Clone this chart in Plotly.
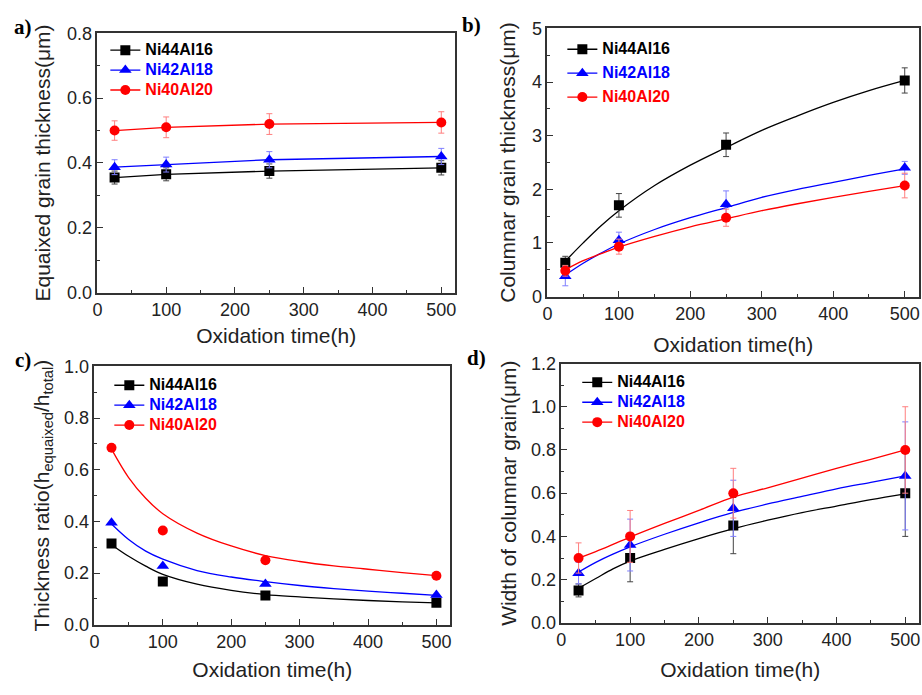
import plotly.graph_objects as go

# ---------------- data ----------------
t = [25, 100, 250, 500]
t_fit = [25, 50, 75, 100, 150, 200, 250, 300, 350, 400, 450, 500]
series = ["Ni44Al16", "Ni42Al18", "Ni40Al20"]

# a) equiaxed grain thickness
a_ni44 = [0.355, 0.365, 0.375, 0.385]
a_ni42 = [0.387, 0.395, 0.410, 0.420]
a_ni40 = [0.500, 0.510, 0.520, 0.525]
a_err44 = [0.020, 0.020, 0.022, 0.022]
a_err42 = [0.023, 0.023, 0.025, 0.025]
a_err40 = [0.030, 0.032, 0.032, 0.033]

# b) columnar grain thickness
b_ni44 = [0.63, 1.70, 2.83, 4.03]
b_ni42 = [0.38, 1.05, 1.72, 2.40]
b_ni40 = [0.48, 0.93, 1.47, 2.07]
b_err44 = [0.12, 0.22, 0.22, 0.235]
b_err42 = [0.18, 0.15, 0.25, 0.12]
b_err40 = [0.10, 0.14, 0.16, 0.23]
b_fit44 = [0.66, 1.00, 1.32, 1.60, 2.07, 2.45, 2.78, 3.10, 3.37, 3.62, 3.84, 4.03]
b_fit42 = [0.40, 0.62, 0.81, 0.98, 1.25, 1.47, 1.66, 1.85, 2.00, 2.13, 2.26, 2.38]
b_fit40 = [0.50, 0.67, 0.80, 0.92, 1.12, 1.30, 1.45, 1.60, 1.73, 1.85, 1.96, 2.07]

# c) thickness ratio
c_ni44 = [0.315, 0.168, 0.113, 0.085]
c_ni42 = [0.395, 0.228, 0.158, 0.115]
c_ni40 = [0.685, 0.365, 0.250, 0.190]
c_fit44 = [0.310, 0.265, 0.227, 0.195, 0.157, 0.133, 0.117, 0.108, 0.100, 0.094, 0.089, 0.085]
c_fit42 = [0.390, 0.330, 0.285, 0.254, 0.210, 0.185, 0.167, 0.152, 0.140, 0.130, 0.122, 0.114]
c_fit40 = [0.680, 0.570, 0.490, 0.430, 0.355, 0.305, 0.268, 0.245, 0.228, 0.215, 0.202, 0.190]

# d) width of columnar grain
d_ni44 = [0.15, 0.30, 0.45, 0.60]
d_ni42 = [0.23, 0.36, 0.53, 0.68]
d_ni40 = [0.30, 0.40, 0.60, 0.80]
d_err44 = [0.03, 0.11, 0.13, 0.20]
d_err42 = [0.05, 0.12, 0.13, 0.25]
d_err40 = [0.07, 0.12, 0.115, 0.20]
d_fit44 = [0.160, 0.205, 0.250, 0.286, 0.340, 0.390, 0.436, 0.475, 0.510, 0.540, 0.570, 0.597]
d_fit42 = [0.235, 0.280, 0.318, 0.352, 0.410, 0.463, 0.511, 0.550, 0.585, 0.620, 0.650, 0.680]
d_fit40 = [0.300, 0.330, 0.363, 0.397, 0.460, 0.520, 0.582, 0.625, 0.670, 0.715, 0.757, 0.800]

# ---------------- styles ----------------
colors = ["#000000", "#0000ff", "#ff0000"]
err_colors = ["#444444", "#7f7fff", "#ff7f7f"]
symbols = ["square", "triangle-up", "circle"]
msizes = [10, 11, 10]
FONT = "Arial, Liberation Sans, sans-serif"

fig = go.Figure()

panels = [
    dict(key="", pts=[a_ni44, a_ni42, a_ni40], err=[a_err44, a_err42, a_err40],
         fitx=None, fit=None, legend="legend"),
    dict(key="2", pts=[b_ni44, b_ni42, b_ni40], err=[b_err44, b_err42, b_err40],
         fitx=t_fit, fit=[b_fit44, b_fit42, b_fit40], legend="legend2"),
    dict(key="3", pts=[c_ni44, c_ni42, c_ni40], err=None,
         fitx=t_fit, fit=[c_fit44, c_fit42, c_fit40], legend="legend3"),
    dict(key="4", pts=[d_ni44, d_ni42, d_ni40], err=[d_err44, d_err42, d_err40],
         fitx=t_fit, fit=[d_fit44, d_fit42, d_fit40], legend="legend4"),
]

for p in panels:
    xa, ya = "x" + p["key"], "y" + p["key"]
    for i in range(3):
        fx = p["fitx"] if p["fitx"] is not None else t
        fy = p["fit"][i] if p["fit"] is not None else p["pts"][i]
        fig.add_trace(go.Scatter(
            x=fx, y=fy, xaxis=xa, yaxis=ya, mode="lines+markers",
            line=dict(color=colors[i], width=1.3, shape="spline" if p["fit"] is not None else "linear"),
            marker=dict(symbol=symbols[i], size=msizes[i], color=colors[i]),
            selectedpoints=[], unselected=dict(marker=dict(opacity=0)),
            name='<span style="font-size:16px;color:%s"><b>%s</b></span>' % (colors[i], series[i]),
            legend=p["legend"], legendgroup=p["legend"] + str(i), hoverinfo="skip",
        ))
        err = None
        if p["err"] is not None:
            err = dict(type="data", array=p["err"][i], visible=True,
                       color=err_colors[i], thickness=1, width=3)
        fig.add_trace(go.Scatter(
            x=t, y=p["pts"][i], xaxis=xa, yaxis=ya, mode="markers",
            marker=dict(symbol=symbols[i], size=msizes[i], color=colors[i]),
            error_y=err, showlegend=False,
        ))

W, H = 922, 695
def dx(a, b):
    return [a / W, b / W]
def dy(top, bot):
    return [1 - bot / H, 1 - top / H]

axis_common = dict(
    showline=True, linecolor="#333333", linewidth=1.5, mirror=True,
    ticks="inside", ticklen=6, tickwidth=1.2, tickcolor="#333333",
    showgrid=False, zeroline=False,
    tickfont=dict(family=FONT, size=18, color="#222222"),
    title_font=dict(family=FONT, size=21, color="#222222"),
)
minor = dict(ticks="inside", ticklen=3, tickwidth=1, tickcolor="#333333", showgrid=False)

xt = "Oxidation time(h)"
layout = dict(
    width=W, height=H, margin=dict(l=0, r=0, t=0, b=0),
    paper_bgcolor="white", plot_bgcolor="white", showlegend=True,
    xaxis=dict(domain=dx(93, 453), anchor="y", range=[0, 520], dtick=100,
               minor=dict(dtick=50, **minor), title=dict(text=xt, standoff=9), **axis_common),
    yaxis=dict(domain=dy(24, 291), anchor="x", range=[0, 0.8], dtick=0.2, tickformat=".1f",
               minor=dict(dtick=0.1, **minor), title=dict(text="Equaixed grain thickness(μm)", standoff=11),
               **axis_common),
    xaxis2=dict(domain=dx(546, 920), anchor="y2", range=[0, 520], dtick=100,
                minor=dict(dtick=50, **minor), title=dict(text=xt, standoff=14), **axis_common),
    yaxis2=dict(domain=dy(19, 295), anchor="x2", range=[0, 5], dtick=1,
                minor=dict(dtick=0.5, **minor), title=dict(text="Columnar grain thickness(μm)", standoff=11),
                **axis_common),
    xaxis3=dict(domain=dx(90, 448), anchor="y3", range=[0, 520], dtick=100,
                minor=dict(dtick=50, **minor), title=dict(text=xt, standoff=11), **axis_common),
    yaxis3=dict(domain=dy(367, 633), anchor="x3", range=[0, 1.0], dtick=0.2, tickformat=".1f",
                minor=dict(dtick=0.1, **minor),
                title=dict(text="Thickness ratio(h<sub>equaixed</sub>/h<sub>total</sub>)", standoff=9),
                **axis_common),
    xaxis4=dict(domain=dx(560, 920), anchor="y4", range=[0, 520], dtick=100,
                minor=dict(dtick=50, **minor), title=dict(text=xt, standoff=13), **axis_common),
    yaxis4=dict(domain=dy(364, 631), anchor="x4", range=[0, 1.2], dtick=0.2, tickformat=".1f",
                minor=dict(dtick=0.1, **minor), title=dict(text="Width of columnar grain(μm)", standoff=9),
                **axis_common),
)

leg_common = dict(font=dict(family=FONT, size=13), bgcolor="rgba(0,0,0,0)", borderwidth=0,
                  xanchor="left", yanchor="top", tracegroupgap=0, traceorder="grouped")
layout["legend"] = dict(x=101 / W, y=1 - 26 / H, **leg_common)
layout["legend2"] = dict(x=561 / W, y=1 - 25 / H, **{**leg_common, "tracegroupgap": 4})
layout["legend3"] = dict(x=105 / W, y=1 - 371 / H, **leg_common)
layout["legend4"] = dict(x=576 / W, y=1 - 368 / H, **leg_common)

fig.update_layout(**layout)

labels = [("a)", 18, 17), ("b)", 470, 15), ("c)", 18, 360), ("d)", 475, 358)]
for txt, px, py in labels:
    fig.add_annotation(text="<b>%s</b>" % txt, x=px / W, y=1 - py / H, xref="paper", yref="paper",
                       showarrow=False, xanchor="center", yanchor="middle",
                       font=dict(family="Liberation Serif, Times New Roman, serif", size=21, color="black"))

fig.write_html("out.html", config={"displayModeBar": False},
               post_script="document.body.style.margin='0';document.body.style.overflow='hidden';")
